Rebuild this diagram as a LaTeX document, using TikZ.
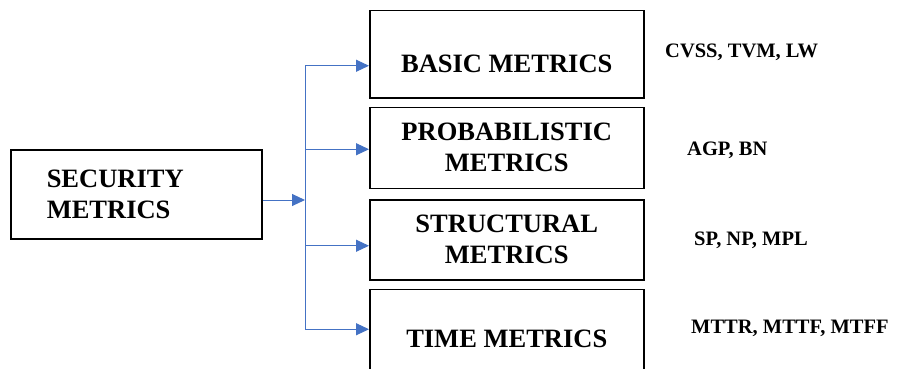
\documentclass[tikz,border=0pt]{standalone}
\usepackage{fontspec}
\setmainfont{Liberation Serif}
\newfontfamily\boxfont{Liberation Serif}[BoldFont={* Bold}]
\usetikzlibrary{arrows.meta,positioning}
\definecolor{arrowblue}{RGB}{68,114,196}

\begin{document}
\begin{tikzpicture}[
    x=1pt, y=-1pt,
    node distance=8pt,
    every node/.style={font=\boxfont\bfseries\fontsize{26.5}{31}\selectfont},
    box/.style={draw, line width=1.5pt, align=center, minimum width=274pt, inner sep=0pt},
    rootbox/.style={draw, line width=1.5pt, align=left, text width=179pt, inner xsep=36pt, minimum height=89pt},
    tag/.style={anchor=base west, inner sep=0pt, font=\boxfont\bfseries\fontsize{20.5}{24}\selectfont},
    flow/.style={-{Triangle[length=13pt, width=12pt]}, line width=1pt, arrowblue},
    trunk/.style={line width=1pt, arrowblue}
]
\path[use as bounding box, clip] (0,0) rectangle (904,369);
\node[rootbox, anchor=north west] (security) at (10,149) {SECURITY\\METRICS};
\node[box, minimum height=87pt, text height=37pt, text depth=0pt, anchor=north west] (basic) at (369,10) {BASIC METRICS};
\node[box, minimum height=81pt, below=of basic] (probabilistic) {PROBABILISTIC\\METRICS};
\node[box, minimum height=80pt, below=10pt of probabilistic] (structural) {STRUCTURAL\\METRICS};
\node[box, minimum height=100pt, below=of structural] (time) {TIME METRICS};
\node[tag] (cvss) at (665,58) {CVSS, TVM, LW};
\node[tag] (agp) at (687,155) {AGP, BN};
\node[tag] (sp) at (694,245) {SP, NP, MPL};
\node[tag] (mttr) at (691,333) {MTTR, MTTF, MTFF};
% split point and arrow entries
\coordinate (split) at (305,200);
\coordinate (basic-in) at ([yshift=-11.5pt]basic.west);
\coordinate (probabilistic-in) at ([yshift=-1.5pt]probabilistic.west);
\coordinate (structural-in) at ([yshift=-6pt]structural.west);
\coordinate (time-in) at ([yshift=10pt]time.west);
\draw[flow] (security.east |- split) -- (split);
\draw[trunk] (split |- basic-in) -- (split |- time-in);
\draw[flow] (split |- basic-in) -- (basic-in);
\draw[flow] (split |- probabilistic-in) -- (probabilistic-in);
\draw[flow] (split |- structural-in) -- (structural-in);
\draw[flow] (split |- time-in) -- (time-in);
\end{tikzpicture}
\end{document}
